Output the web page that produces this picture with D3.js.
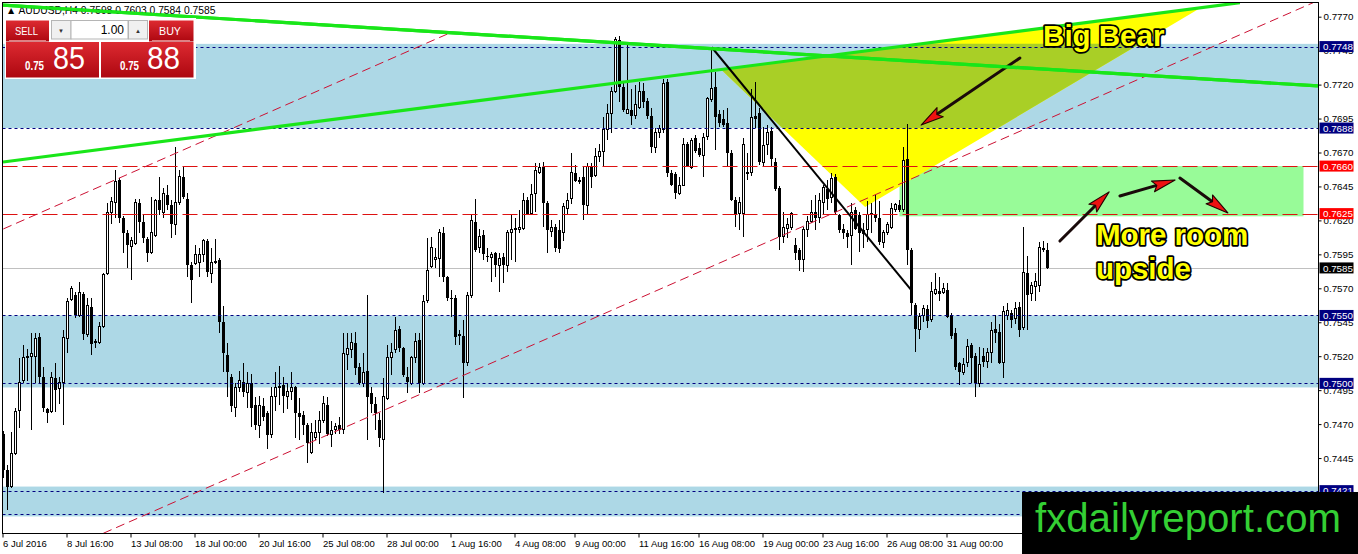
<!DOCTYPE html>
<html><head><meta charset="utf-8">
<script src="https://d3js.org/d3.v7.min.js"></script>
<style>body{margin:0;background:#fff;overflow:hidden}svg{display:block}</style>
</head><body>
<svg id="chart" width="1358" height="554"></svg>
<script>
// ---------- DATA (AUDUSD H4) ----------
const open = [
0.7463,0.7436,0.7424,0.7448,0.7480,0.7502,0.7519,0.7520,0.7520,0.7534,
0.7505,0.7481,0.7479,0.7504,0.7496,0.7501,0.7533,0.7562,0.7565,0.7550,
0.7566,0.7536,0.7556,0.7530,0.7530,0.7542,0.7581,0.7626,0.7633,0.7650,
0.7622,0.7611,0.7601,0.7603,0.7633,0.7619,0.7606,0.7596,0.7609,0.7635,
0.7626,0.7639,0.7631,0.7617,0.7633,0.7652,0.7636,0.7587,0.7588,0.7589,
0.7595,0.7605,0.7581,0.7589,0.7591,0.7545,0.7521,0.7505,0.7482,0.7497,
0.7501,0.7493,0.7500,0.7484,0.7469,0.7483,0.7478,0.7462,0.7490,0.7497,
0.7499,0.7490,0.7494,0.7497,0.7478,0.7477,0.7469,0.7449,0.7460,0.7464,
0.7473,0.7484,0.7462,0.7466,0.7469,0.7466,0.7521,0.7525,0.7530,0.7512,
0.7500,0.7509,0.7493,0.7485,0.7473,0.7459,0.7489,0.7519,0.7525,0.7540,
0.7526,0.7505,0.7500,0.7519,0.7532,0.7500,0.7561,0.7586,0.7591,0.7592,
0.7611,0.7578,0.7563,0.7563,0.7536,0.7535,0.7515,0.7565,0.7619,0.7600,
0.7609,0.7594,0.7593,0.7596,0.7587,0.7593,0.7587,0.7611,0.7613,0.7613,
0.7614,0.7635,0.7625,0.7640,0.7655,0.7659,0.7633,0.7612,0.7615,0.7613,
0.7611,0.7629,0.7636,0.7655,0.7650,0.7652,0.7631,0.7660,0.7653,0.7667,
0.7671,0.7687,0.7699,0.7715,0.7753,0.7718,0.7699,0.7701,0.7697,0.7703,
0.7715,0.7708,0.7697,0.7674,0.7685,0.7687,0.7722,0.7655,0.7654,0.7640,
0.7646,0.7676,0.7659,0.7681,0.7673,0.7668,0.7682,0.7709,0.7718,0.7698,
0.7695,0.7692,0.7670,0.7635,0.7625,0.7625,0.7656,0.7655,0.7697,0.7699,
0.7663,0.7676,0.7686,0.7663,0.7644,0.7608,0.7614,0.7615,0.7602,0.7598,
0.7591,0.7613,0.7619,0.7626,0.7622,0.7633,0.7643,0.7637,0.7652,0.7624,
0.7614,0.7611,0.7609,0.7628,0.7624,0.7613,0.7613,0.7624,0.7624,0.7622,
0.7604,0.7611,0.7615,0.7628,0.7631,0.7628,0.7665,0.7598,0.7558,0.7540,
0.7550,0.7555,0.7547,0.7566,0.7568,0.7567,0.7569,0.7550,0.7537,0.7515,
0.7508,0.7515,0.7528,0.7520,0.7500,0.7520,0.7516,0.7523,0.7540,0.7538,
0.7515,0.7550,0.7552,0.7548,0.7556,0.7541,0.7581,0.7566,0.7571,0.7572,
0.7600,0.7598];
const high = [
0.7465,0.7440,0.7464,0.7482,0.7519,0.7528,0.7525,0.7537,0.7537,0.7537,
0.7512,0.7482,0.7508,0.7515,0.7505,0.7539,0.7563,0.7572,0.7567,0.7575,
0.7567,0.7563,0.7563,0.7533,0.7545,0.7581,0.7633,0.7637,0.7657,0.7651,
0.7623,0.7613,0.7608,0.7636,0.7636,0.7624,0.7608,0.7637,0.7636,0.7652,
0.7644,0.7646,0.7635,0.7674,0.7657,0.7659,0.7640,0.7589,0.7602,0.7600,
0.7606,0.7606,0.7600,0.7606,0.7592,0.7557,0.7530,0.7507,0.7500,0.7509,
0.7515,0.7508,0.7507,0.7490,0.7491,0.7489,0.7480,0.7497,0.7508,0.7513,
0.7505,0.7500,0.7508,0.7498,0.7489,0.7480,0.7471,0.7471,0.7473,0.7480,
0.7491,0.7490,0.7472,0.7471,0.7475,0.7537,0.7537,0.7537,0.7538,0.7515,
0.7522,0.7565,0.7497,0.7490,0.7478,0.7504,0.7528,0.7530,0.7549,0.7542,
0.7527,0.7512,0.7520,0.7537,0.7537,0.7565,0.7607,0.7608,0.7600,0.7614,
0.7615,0.7579,0.7569,0.7565,0.7539,0.7547,0.7567,0.7624,0.7636,0.7614,
0.7613,0.7600,0.7597,0.7597,0.7596,0.7596,0.7613,0.7625,0.7622,0.7628,
0.7640,0.7637,0.7647,0.7662,0.7662,0.7663,0.7634,0.7620,0.7617,0.7620,
0.7633,0.7640,0.7670,0.7661,0.7652,0.7660,0.7662,0.7662,0.7673,0.7676,
0.7696,0.7706,0.7718,0.7755,0.7756,0.7722,0.7749,0.7717,0.7720,0.7722,
0.7721,0.7710,0.7703,0.7688,0.7690,0.7724,0.7724,0.7657,0.7656,0.7652,
0.7681,0.7678,0.7681,0.7683,0.7677,0.7684,0.7711,0.7748,0.7729,0.7701,
0.7701,0.7703,0.7672,0.7637,0.7637,0.7681,0.7670,0.7717,0.7722,0.7703,
0.7689,0.7690,0.7689,0.7666,0.7645,0.7626,0.7622,0.7626,0.7607,0.7600,
0.7615,0.7623,0.7635,0.7639,0.7640,0.7646,0.7650,0.7655,0.7654,0.7625,
0.7617,0.7613,0.7633,0.7630,0.7626,0.7618,0.7634,0.7633,0.7639,0.7634,
0.7613,0.7619,0.7633,0.7633,0.7635,0.7674,0.7691,0.7600,0.7559,0.7552,
0.7558,0.7558,0.7575,0.7581,0.7578,0.7574,0.7574,0.7552,0.7541,0.7516,
0.7519,0.7533,0.7530,0.7522,0.7527,0.7526,0.7526,0.7545,0.7550,0.7544,
0.7557,0.7559,0.7554,0.7560,0.7560,0.7615,0.7594,0.7575,0.7581,0.7604,
0.7605,0.7603];
const low = [
0.7430,0.7407,0.7423,0.7447,0.7467,0.7500,0.7502,0.7466,0.7500,0.7500,
0.7479,0.7471,0.7478,0.7479,0.7485,0.7469,0.7522,0.7561,0.7548,0.7549,
0.7532,0.7534,0.7521,0.7526,0.7529,0.7541,0.7580,0.7617,0.7622,0.7618,
0.7596,0.7585,0.7576,0.7602,0.7611,0.7603,0.7589,0.7595,0.7608,0.7624,
0.7622,0.7628,0.7607,0.7609,0.7631,0.7636,0.7578,0.7559,0.7587,0.7578,
0.7589,0.7578,0.7574,0.7588,0.7537,0.7508,0.7490,0.7479,0.7475,0.7494,
0.7490,0.7482,0.7468,0.7466,0.7460,0.7472,0.7452,0.7460,0.7480,0.7484,
0.7478,0.7481,0.7488,0.7460,0.7458,0.7462,0.7441,0.7448,0.7458,0.7455,
0.7471,0.7461,0.7453,0.7463,0.7463,0.7463,0.7510,0.7519,0.7506,0.7499,
0.7497,0.7458,0.7478,0.7466,0.7453,0.7419,0.7488,0.7506,0.7522,0.7523,
0.7505,0.7493,0.7499,0.7515,0.7493,0.7499,0.7559,0.7585,0.7585,0.7578,
0.7575,0.7561,0.7549,0.7528,0.7528,0.7489,0.7513,0.7563,0.7597,0.7596,
0.7591,0.7589,0.7575,0.7578,0.7567,0.7574,0.7582,0.7591,0.7589,0.7611,
0.7613,0.7624,0.7624,0.7626,0.7654,0.7615,0.7596,0.7608,0.7597,0.7596,
0.7605,0.7625,0.7632,0.7648,0.7647,0.7620,0.7625,0.7644,0.7652,0.7663,
0.7659,0.7679,0.7684,0.7714,0.7707,0.7700,0.7698,0.7690,0.7695,0.7702,
0.7703,0.7695,0.7670,0.7670,0.7681,0.7684,0.7652,0.7645,0.7636,0.7639,
0.7645,0.7659,0.7658,0.7670,0.7667,0.7652,0.7679,0.7707,0.7672,0.7689,
0.7689,0.7659,0.7634,0.7615,0.7613,0.7608,0.7650,0.7653,0.7688,0.7661,
0.7660,0.7668,0.7659,0.7642,0.7598,0.7603,0.7607,0.7613,0.7591,0.7583,
0.7582,0.7608,0.7618,0.7613,0.7618,0.7625,0.7628,0.7633,0.7625,0.7611,
0.7606,0.7600,0.7587,0.7613,0.7597,0.7600,0.7604,0.7611,0.7619,0.7602,
0.7600,0.7609,0.7614,0.7626,0.7626,0.7626,0.7587,0.7550,0.7523,0.7533,
0.7545,0.7541,0.7545,0.7565,0.7561,0.7566,0.7548,0.7533,0.7510,0.7499,
0.7506,0.7512,0.7500,0.7490,0.7497,0.7512,0.7511,0.7515,0.7530,0.7514,
0.7504,0.7547,0.7541,0.7544,0.7534,0.7539,0.7539,0.7561,0.7561,0.7567,
0.7597,0.7584];
const close = [
0.7436,0.7424,0.7448,0.7479,0.7501,0.7519,0.7520,0.7522,0.7533,0.7505,
0.7482,0.7478,0.7504,0.7495,0.7501,0.7534,0.7560,0.7570,0.7550,0.7567,
0.7536,0.7557,0.7529,0.7531,0.7542,0.7580,0.7626,0.7634,0.7649,0.7622,
0.7611,0.7602,0.7605,0.7633,0.7619,0.7607,0.7596,0.7611,0.7635,0.7628,
0.7640,0.7631,0.7617,0.7633,0.7652,0.7637,0.7587,0.7576,0.7595,0.7595,
0.7605,0.7582,0.7589,0.7590,0.7545,0.7522,0.7508,0.7483,0.7497,0.7502,
0.7494,0.7500,0.7482,0.7469,0.7484,0.7475,0.7462,0.7490,0.7497,0.7498,
0.7491,0.7494,0.7497,0.7478,0.7475,0.7469,0.7456,0.7464,0.7464,0.7473,
0.7485,0.7463,0.7465,0.7468,0.7466,0.7522,0.7526,0.7530,0.7511,0.7500,
0.7508,0.7490,0.7485,0.7478,0.7460,0.7490,0.7519,0.7523,0.7539,0.7526,
0.7506,0.7501,0.7519,0.7531,0.7500,0.7560,0.7583,0.7600,0.7593,0.7611,
0.7578,0.7563,0.7562,0.7534,0.7535,0.7515,0.7565,0.7620,0.7598,0.7608,
0.7595,0.7593,0.7595,0.7587,0.7592,0.7587,0.7611,0.7613,0.7614,0.7615,
0.7635,0.7625,0.7639,0.7657,0.7659,0.7633,0.7613,0.7615,0.7600,0.7599,
0.7630,0.7635,0.7655,0.7649,0.7648,0.7631,0.7660,0.7652,0.7667,0.7671,
0.7687,0.7699,0.7715,0.7753,0.7718,0.7701,0.7702,0.7697,0.7705,0.7715,
0.7707,0.7697,0.7674,0.7685,0.7688,0.7721,0.7655,0.7646,0.7640,0.7646,
0.7676,0.7660,0.7679,0.7671,0.7668,0.7681,0.7710,0.7717,0.7696,0.7692,
0.7690,0.7670,0.7635,0.7624,0.7633,0.7676,0.7654,0.7696,0.7695,0.7663,
0.7675,0.7685,0.7665,0.7643,0.7608,0.7615,0.7617,0.7625,0.7596,0.7591,
0.7613,0.7619,0.7626,0.7622,0.7635,0.7644,0.7636,0.7651,0.7626,0.7613,
0.7611,0.7608,0.7626,0.7614,0.7611,0.7610,0.7624,0.7625,0.7622,0.7604,
0.7611,0.7617,0.7629,0.7632,0.7628,0.7664,0.7598,0.7559,0.7540,0.7549,
0.7555,0.7546,0.7568,0.7569,0.7566,0.7570,0.7549,0.7535,0.7512,0.7508,
0.7514,0.7527,0.7519,0.7500,0.7514,0.7516,0.7523,0.7539,0.7537,0.7515,
0.7553,0.7554,0.7547,0.7555,0.7539,0.7582,0.7565,0.7572,0.7575,0.7600,
0.7598,0.7585];

const symbol = "AUDUSD,H4";
const timeLabels = ["6 Jul 2016","8 Jul 16:00","13 Jul 08:00","18 Jul 00:00","20 Jul 16:00","25 Jul 08:00",
  "28 Jul 00:00","1 Aug 16:00","4 Aug 08:00","9 Aug 00:00","11 Aug 16:00","16 Aug 08:00",
  "19 Aug 00:00","23 Aug 16:00","26 Aug 08:00","31 Aug 00:00"];
const timeLabelBars = [0,16,32,48,64,80,96,112,128,143,159,174,190,205,221,236];
const priceTicks = [0.7770,0.7745,0.7720,0.7695,0.7670,0.7645,0.7620,0.7595,0.7570,0.7545,0.7520,0.7495,0.7470,0.7445,0.7420];

const zones = [[0.7750,0.7688],[0.7550,0.7497],[0.7424,0.7402]];
const dashedLevels = [0.7748,0.7688,0.7550,0.7500,0.7421,0.7404];
const redLevels = [0.7660,0.7625];
const tagLevels = [0.7748,0.7688,0.7550,0.7500,0.7421];
const bid = 0.7585, ask = 0.7588, lotSize = "1.00";

// drawing objects in (bar index, price)
const greenLines = [[[-0.875,0.77786],[328.6,0.77190]], [[-0.125,0.76630],[309.1,0.77803]]];
const channelLines = [[[-0.05,0.76137],[112.1,0.77587]], [[24.95,0.73896],[327.4,0.77803]]];
const blackTrend = [[177.05,0.77475],[226.9,0.75688]];
const triangle = [[179.4,0.77311],[215.4,0.76299],[299.1,0.77763]];
const targetBox = {from:224, to:325, top:0.7660, bottom:0.7623};
const arrows = [
  {from:[254.1,0.77396], to:[229.4,0.76902]},
  {from:[264.1,0.76048], to:[276.4,0.76410]},
  {from:[279.1,0.76380], to:[292.9,0.76497]},
  {from:[294.1,0.76512], to:[306.1,0.76255]}
];
const notes = [
  {text:"Big Bear", at:[259.9,0.77484]},
  {text:"More room", at:[273.1,0.76019]},
  {text:"upside", at:[273.1,0.75769]}
];

// ---------- SCALES ----------
const svg = d3.select("#chart");
const L = 2.5, T = 2.5, R = 1318.5, B = 533.5;
const x = d3.scaleLinear().domain([0, 1]).range([3.5, 7.5]);
const y = d3.scaleLinear().domain([0.7420, 0.7770]).range([492, 16.7]);
const FONT = "'Liberation Sans', Arial, sans-serif";

svg.append("rect").attr("width",1358).attr("height",554).attr("fill","#fff");
const defs = svg.append("defs");
defs.append("clipPath").attr("id","plot").append("rect").attr("x",L+0.5).attr("y",T+0.5).attr("width",R-L-1).attr("height",B-T-1);
defs.append("clipPath").attr("id","zone0").append("rect")
  .attr("x",L).attr("width",R-L).attr("y",y(zones[0][0])).attr("height",y(zones[0][1])-y(zones[0][0]));

const g = svg.append("g").attr("clip-path","url(#plot)");

// zones
g.selectAll(".zone").data(zones).join("rect")
  .attr("x",L).attr("width",R-L).attr("y",d=>y(d[0])).attr("height",d=>y(d[1])-y(d[0]))
  .attr("fill","#add8e6");

// target box
g.append("rect").attr("x",x(targetBox.from)).attr("width",x(targetBox.to)-x(targetBox.from))
  .attr("y",y(targetBox.top)).attr("height",y(targetBox.bottom)-y(targetBox.top)).attr("fill","#98fb98");

// triangle
const triPath = d3.line().x(d=>x(d[0])).y(d=>y(d[1]));
g.append("path").attr("d",triPath(triangle)+"Z").attr("fill","#ffff00");
g.append("path").attr("d",triPath(triangle)+"Z").attr("fill","#a9cf26").attr("clip-path","url(#zone0)");

// bid line
g.append("line").attr("x1",L).attr("x2",R).attr("y1",Math.round(y(bid))+0.5).attr("y2",Math.round(y(bid))+0.5)
  .attr("stroke","#c0c0c0").attr("stroke-width",1);

// candles
const bars = d3.range(open.length).map(i=>({i,o:open[i],h:high[i],l:low[i],c:close[i]}));
const cg = g.append("g").attr("shape-rendering","crispEdges");
cg.selectAll("line").data(bars).join("line")
  .attr("x1",d=>x(d.i)).attr("x2",d=>x(d.i)).attr("y1",d=>y(d.h)).attr("y2",d=>y(d.l))
  .attr("stroke","#000").attr("stroke-width",1);
cg.selectAll("rect").data(bars).join("rect")
  .attr("x",d=> d.c>=d.o ? x(d.i)-1 : x(d.i)-1.5)
  .attr("width",d=> d.c>=d.o ? 2 : 3)
  .attr("y",d=>y(Math.max(d.o,d.c)))
  .attr("height",d=>Math.max(1, Math.abs(y(d.o)-y(d.c))))
  .attr("fill",d=> d.c>=d.o ? "#fff" : "#000")
  .attr("stroke",d=> d.c>=d.o ? "#000" : "none").attr("stroke-width",1);

// dashed navy levels
g.selectAll(".lvl").data(dashedLevels).join("line")
  .attr("x1",L).attr("x2",R).attr("y1",d=>Math.round(y(d))+0.5).attr("y2",d=>Math.round(y(d))+0.5)
  .attr("stroke","#000080").attr("stroke-width",1).attr("stroke-dasharray","3,3");
// red levels
g.selectAll(".rl").data(redLevels).join("line")
  .attr("x1",L).attr("x2",R).attr("y1",d=>Math.round(y(d))+0.5).attr("y2",d=>Math.round(y(d))+0.5)
  .attr("stroke","#dd1111").attr("stroke-width",1).attr("stroke-dasharray","15,5");

// channel lines
const seg = d3.line().x(d=>x(d[0])).y(d=>y(d[1]));
g.selectAll(".ch").data(channelLines).join("path").attr("d",seg)
  .attr("fill","none").attr("stroke","#cc1133").attr("stroke-width",1).attr("stroke-dasharray","9,5");
// green lines
g.selectAll(".gl").data(greenLines).join("path").attr("d",seg)
  .attr("fill","none").attr("stroke","#19e619").attr("stroke-width",3.2);
// black trend line
g.append("path").attr("d",seg(blackTrend)).attr("fill","none").attr("stroke","#000").attr("stroke-width",2);

// arrows
arrows.forEach(a=>{
  const x0=x(a.from[0]), y0=y(a.from[1]), x1=x(a.to[0]), y1=y(a.to[1]);
  const dx=x1-x0, dy=y1-y0, len=Math.hypot(dx,dy), ux=dx/len, uy=dy/len;
  const hl=23, hw=5.5;
  const bx=x1-ux*hl, by=y1-uy*hl;
  g.append("line").attr("x1",x0).attr("y1",y0).attr("x2",bx+ux*3).attr("y2",by+uy*3)
    .attr("stroke","#1a0a0a").attr("stroke-width",3).attr("stroke-linecap","round");
  const pts=[[x1,y1],[bx-uy*hw,by+ux*hw],[bx+ux*4,by+uy*4],[bx+uy*hw,by-ux*hw]];
  g.append("path").attr("d","M"+pts.map(p=>p.join(",")).join("L")+"Z")
    .attr("fill","#ee1111").attr("stroke","#220000").attr("stroke-width",1.1).attr("stroke-linejoin","round");
});

// notes
g.selectAll(".note").data(notes).join("text")
  .attr("x",d=>x(d.at[0])).attr("y",d=>y(d.at[1])).text(d=>d.text)
  .attr("font-family",FONT).attr("font-weight","bold").attr("font-size",29.5)
  .attr("fill","#ffff00").attr("stroke","#000").attr("stroke-width",3.5)
  .attr("stroke-linejoin","round").attr("paint-order","stroke");

// frame
svg.append("rect").attr("x",L).attr("y",T).attr("width",R-L).attr("height",B-T)
  .attr("fill","none").attr("stroke","#000").attr("stroke-width",1);

// right axis
const ya = svg.append("g").attr("transform",`translate(${R},0)`)
  .call(d3.axisRight(y).tickValues(priceTicks).tickFormat(d3.format(".4f")).tickSize(3).tickPadding(2));
ya.select(".domain").remove();
ya.selectAll("text").attr("font-family",FONT).attr("font-size",9.8).attr("fill","#000");
ya.selectAll("line").attr("stroke","#000");

// bottom axis
const xa = svg.append("g").attr("transform",`translate(0,${B})`)
  .call(d3.axisBottom(x).tickValues(timeLabelBars).tickFormat((d,i)=>timeLabels[i]).tickSize(4).tickPadding(3));
xa.select(".domain").remove();
xa.selectAll("line").attr("stroke","#000").attr("transform","translate(-1,0)");
xa.selectAll("text").attr("font-family",FONT).attr("font-size",9.5).attr("fill","#000")
  .attr("text-anchor","start").attr("dx",-1);

// price tags
const tags = tagLevels.map(v=>({v,bg:"#000080"}))
  .concat(redLevels.map(v=>({v,bg:"#ff0000"}))).concat([{v:bid,bg:"#000"}]);
const tg = svg.selectAll(".tag").data(tags).join("g").attr("transform",d=>`translate(${R+1},${y(d.v)})`);
tg.append("rect").attr("x",0).attr("y",-5.5).attr("width",34).attr("height",11).attr("fill",d=>d.bg);
tg.append("text").attr("x",3.5).attr("y",3.6).text(d=>d3.format(".4f")(d.v))
  .attr("font-family",FONT).attr("font-size",9.8).attr("fill","#fff");

// title
const last = open.length-1;
svg.append("text").attr("x",6).attr("y",13.5).attr("font-family",FONT).attr("font-size",10.3).attr("fill","#000")
  .text(`\u25B2 ${symbol} ${[open[last],high[last],low[last],close[last]].map(d3.format(".4f")).join(" ")}`);
// redraw first green line over title
svg.append("path").attr("clip-path","url(#plot)").attr("d",seg(greenLines[0]))
  .attr("fill","none").attr("stroke","#19e619").attr("stroke-width",3.2);

// one-click panel
const gr = defs.append("linearGradient").attr("id","red").attr("x1",0).attr("y1",0).attr("x2",0).attr("y2",1);
gr.append("stop").attr("offset","0").attr("stop-color","#dd2a31");
gr.append("stop").attr("offset","1").attr("stop-color","#ad0710");
const p = svg.append("g");
p.append("rect").attr("x",5).attr("y",18).attr("width",191).attr("height",61).attr("fill","#fff");
p.append("rect").attr("x",6).attr("y",20.5).attr("width",43).attr("height",21).attr("fill","url(#red)");
p.append("rect").attr("x",149).attr("y",20.5).attr("width",44.5).attr("height",21).attr("fill","url(#red)");
p.append("rect").attr("x",51.5).attr("y",20.5).attr("width",19.5).attr("height",18.5).attr("fill","#f0f0f0").attr("stroke","#b5b5b5");
p.append("rect").attr("x",71).attr("y",20.5).attr("width",57).attr("height",18.5).attr("fill","#fff").attr("stroke","#b5b5b5");
p.append("rect").attr("x",128.5).attr("y",20.5).attr("width",19).attr("height",18.5).attr("fill","#f0f0f0").attr("stroke","#b5b5b5");
p.append("rect").attr("x",6).attr("y",42).attr("width",93).attr("height",35.5).attr("fill","url(#red)");
p.append("rect").attr("x",101).attr("y",42).attr("width",92.5).attr("height",35.5).attr("fill","url(#red)");
p.append("line").attr("x1",9).attr("x2",46).attr("y1",40.5).attr("y2",40.5).attr("stroke","#f0a0a0").attr("stroke-width",0.8);
p.append("line").attr("x1",152).attr("x2",190).attr("y1",40.5).attr("y2",40.5).attr("stroke","#f0a0a0").attr("stroke-width",0.8);
const pt = (tx,ty,s,size,opts={})=>{
  const t=p.append("text").attr("x",tx).attr("y",ty).text(s).attr("font-family",FONT).attr("font-size",size)
    .attr("fill",opts.fill||"#fff");
  if(opts.bold) t.attr("font-weight","bold");
  if(opts.anchor) t.attr("text-anchor",opts.anchor);
  if(opts.len) t.attr("textLength",opts.len).attr("lengthAdjust","spacingAndGlyphs");
  return t;
};
pt(15,35,"SELL",11.5,{len:23});
pt(159,35,"BUY",11.5,{len:22});
pt(61,32.5,"\u25BC",6,{fill:"#333",anchor:"middle"});
pt(138,32.5,"\u25B2",6,{fill:"#333",anchor:"middle"});
pt(124,34,lotSize,12,{fill:"#000",anchor:"end"});
const bidStr = d3.format(".4f")(bid), askStr = d3.format(".4f")(ask);
pt(25,70,bidStr.slice(0,4),12,{bold:true,len:19});
pt(53,68.5,bidStr.slice(4),31,{len:32});
pt(120,70,askStr.slice(0,4),12,{bold:true,len:19});
pt(147,68.5,askStr.slice(4),31,{len:33});

// watermark
svg.append("rect").attr("x",1022).attr("y",492).attr("width",336).attr("height",62).attr("fill","#000");
svg.append("text").attr("x",1035).attr("y",532).text("fxdailyreport.com")
  .attr("font-family",FONT).attr("font-size",41).attr("fill","#34cf34")
  .attr("textLength",306).attr("lengthAdjust","spacingAndGlyphs");
</script>
</body></html>
